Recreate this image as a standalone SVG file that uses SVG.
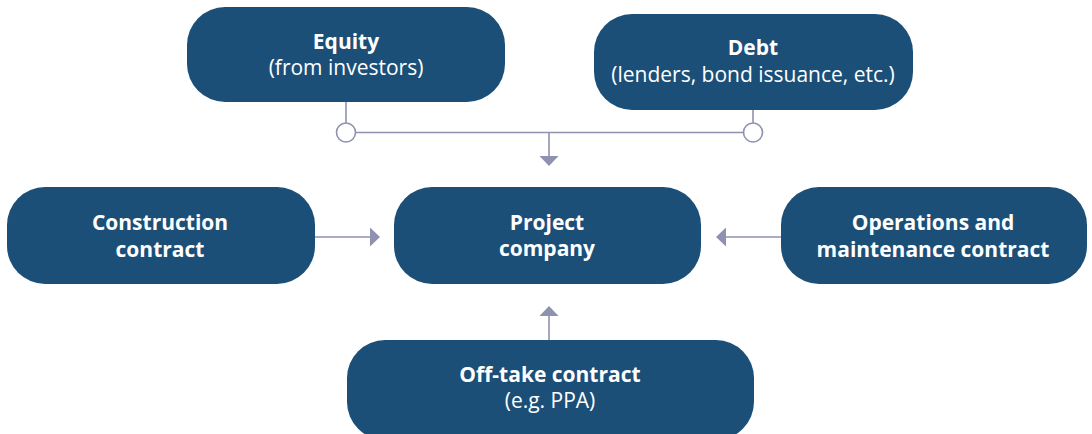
<svg xmlns="http://www.w3.org/2000/svg" width="1092" height="434" viewBox="0 0 1092 434">
<style>
.box{fill:#1b4f78}
.t{font-family:"Open Sans","Liberation Sans",sans-serif;font-size:21px;fill:#ffffff;text-anchor:middle}
.b{font-weight:bold}
.ln{stroke:#8e91b0;stroke-width:1.6;fill:none}
.ah{fill:#8e91b0}
</style>
<g id="equity">
<rect class="box" x="187" y="7" width="318" height="95" rx="38"/>
<text class="t b" x="346" y="49">Equity</text>
<text class="t" x="346" y="75">(from investors)</text>
</g>
<g id="debt">
<rect class="box" x="594" y="14" width="319" height="96" rx="38"/>
<text class="t b" x="753" y="55">Debt</text>
<text class="t" x="753" y="82">(lenders, bond issuance, etc.)</text>
</g>
<g id="construction">
<rect class="box" x="7" y="187" width="308" height="97" rx="38"/>
<text class="t b" x="160" y="230">Construction</text>
<text class="t b" x="160" y="257">contract</text>
</g>
<g id="project">
<rect class="box" x="394" y="187" width="307" height="97" rx="38"/>
<text class="t b" x="547" y="230">Project</text>
<text class="t b" x="547" y="256">company</text>
</g>
<g id="operations">
<rect class="box" x="781" y="187" width="306" height="97" rx="38"/>
<text class="t b" x="933" y="230">Operations and</text>
<text class="t b" x="933" y="257">maintenance contract</text>
</g>
<g id="offtake">
<rect class="box" x="347" y="340" width="407" height="100" rx="38"/>
<text class="t b" x="550" y="382">Off-take contract</text>
<text class="t" x="550" y="408">(e.g. PPA)</text>
</g>
<g id="connectors">
<line class="ln" x1="346" y1="102" x2="346" y2="123"/>
<line class="ln" x1="753" y1="110" x2="753" y2="123"/>
<line class="ln" x1="355.5" y1="132.5" x2="743.5" y2="132.5"/>
<circle cx="346" cy="132.5" r="9.5" fill="#ffffff" stroke="#8e91b0" stroke-width="1.6"/>
<circle cx="753" cy="132.5" r="9.5" fill="#ffffff" stroke="#8e91b0" stroke-width="1.6"/>
<line class="ln" x1="549" y1="132.5" x2="549" y2="157"/>
<polygon class="ah" points="539.5,156 558.5,156 549,166"/>
<line class="ln" x1="315" y1="237" x2="371" y2="237"/>
<polygon class="ah" points="370,227.5 370,246.5 380,237"/>
<line class="ln" x1="781" y1="237" x2="725" y2="237"/>
<polygon class="ah" points="726,227.5 726,246.5 716,237"/>
<line class="ln" x1="549" y1="340" x2="549" y2="315"/>
<polygon class="ah" points="539.5,316 558.5,316 549,306"/>
</g>
</svg>
